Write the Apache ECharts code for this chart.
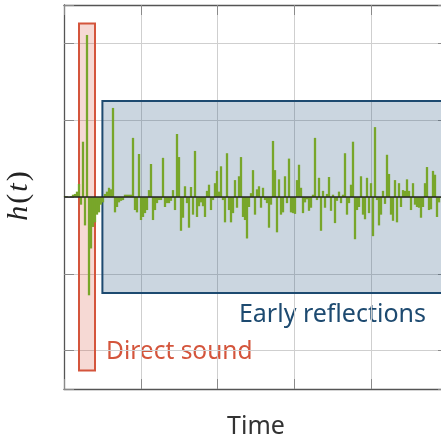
<!DOCTYPE html>
<html>
<head>
<meta charset="utf-8">
<script src="https://cdn.jsdelivr.net/npm/echarts@6/dist/echarts.min.js"></script>
<style>html,body{margin:0;padding:0;background:#fff}#c{width:441px;height:438px}</style>
</head>
<body>
<div id="c"></div>
<script>
// Impulse response h(t): samples (grid unit = 1)
const directPart = [0.01, 0.01, 0, 0.01, 0.03, 0.04, 0.07, 0.17, -0.10, 0.72, -0.37, 2.11, -1.28, -0.67, -0.39, -0.33, -0.23, -0.20, -0.10, -0.07, 0.04, 0.07, 0.12, 0.10, 1.16, -0.20, -0.13, -0.07, -0.05, -0.04, 0.03, 0.03];
const reflA = [0.03, 0.03, 0.77, -0.17, -0.20, 0.56, -0.30, -0.26, -0.21, -0.17, 0.09, 0.43, -0.30, -0.17, -0.08, -0.04, -0.04, 0.51, -0.13, -0.08, -0.08, -0.05, 0.09, -0.17, 0.82, 0.52, -0.44, -0.27, 0.14, -0.08, -0.40, 0.13];
const reflB = [-0.23, 0.60, -0.26, -0.12, -0.07, -0.12, -0.26, 0.08, 0.16, -0.17, -0.04, 0.18, 0.34, 0.07, 0.40, -0.04, -0.33, 0.57, -0.17, -0.33, -0.21, 0.22, -0.14, 0.27, 0.52, -0.26, -0.30, -0.54, -0.13, 0.05, 0.35, -0.23];
const reflC = [0.10, 0.14, -0.14, 0.12, -0.04, -0.08, -0.40, -0.10, 0.73, 0.35, -0.46, 0.23, -0.23, -0.20, 0.27, -0.08, 0.50, -0.20, -0.21, -0.22, 0.22, 0.42, 0.12, -0.21, -0.07, -0.03, -0.18, -0.14, 0.03, 0.77, -0.04, 0.25];
const reflD = [-0.44, 0.08, -0.14, 0.04, 0.26, -0.18, 0.03, -0.34, -0.05, 0.07, -0.08, 0.03, 0.57, -0.23, -0.08, 0.16, 0.72, -0.55, -0.17, -0.13, 0.27, -0.23, -0.29, 0.25, -0.21, 0.18, -0.51, 0.91, -0.04, -0.37, -0.23, 0.08];
const reflE = [-0.09, 0.55, 0.30, -0.23, -0.31, 0.22, -0.33, 0.18, -0.13, 0.09, 0.08, 0.23, 0.08, -0.17, 0.18, -0.10, -0.13, -0.14, -0.27, -0.13, 0.18, 0.39, -0.17, -0.16, 0.34, 0.29, -0.26, -0.07, -0.01, 0.64, -0.17, -0.34, 0.12, 0.50];

// axis ranges (sample index on x, amplitude on y)
const xRange = [0, 192];
const xStep = 38.4;
const yRange = [-2.5, 2.5];

// annotation boxes in data units: [x0, x1, y0, y1]
const directBox = [7.5, 15.5, -2.26, 2.26];
const earlyBox = [19.2, 210, -1.25, 1.25];
const labels = ['Early reflections', 'Direct sound'];

const samples = [].concat(directPart, reflA, reflB, reflC, reflD, reflE);
const seriesData = samples.map((v, i) => [i + 0.5, v]);

const chart = echarts.init(document.getElementById('c'), null, {renderer: 'canvas'});
const axisLineStyle = {color: '#555', width: 1.3};
const tickStyle = {color: '#8a8a8a', width: 1};
chart.setOption({
  animation: false,
  grid: {left: 64, top: 5, right: -7, bottom: 49, containLabel: false, outerBoundsMode: 'none'},
  xAxis: [{
    type: 'value', min: xRange[0], max: xRange[1], interval: xStep, position: 'bottom',
    axisLine: {show: true, onZero: false, lineStyle: axisLineStyle},
    axisTick: {show: true, inside: true, length: 10, lineStyle: tickStyle},
    axisLabel: {show: false},
    splitLine: {show: true, lineStyle: {color: '#cfcfcf', width: 1}},
    name: 'Time', nameLocation: 'middle', nameGap: 25,
    nameTextStyle: {fontFamily: 'Noto Sans', fontSize: 25, color: '#333', verticalAlign: 'top'}
  }, {
    type: 'value', min: xRange[0], max: xRange[1], interval: xStep, position: 'top',
    axisLine: {show: true, onZero: false, lineStyle: axisLineStyle},
    axisTick: {show: true, inside: true, length: 10, lineStyle: tickStyle},
    axisLabel: {show: false}, splitLine: {show: false}
  }],
  yAxis: [{
    type: 'value', min: yRange[0], max: yRange[1], position: 'left',
    axisLine: {show: true, onZero: false, lineStyle: axisLineStyle},
    axisTick: {show: true, inside: true, length: 10, lineStyle: tickStyle},
    axisLabel: {show: false},
    splitLine: {show: true, lineStyle: {color: '#cfcfcf', width: 1}},
    name: '{i|h}{n|(}{i|t}{n|)}', nameLocation: 'middle', nameGap: 30, nameRotate: 90,
    nameTextStyle: {
      fontSize: 30, color: '#222',
      rich: {
        i: {fontFamily: 'Liberation Serif', fontStyle: 'italic', fontSize: 30, color: '#222', padding: [0, 2, 0, 2]},
        n: {fontFamily: 'Liberation Serif', fontSize: 30, color: '#222'}
      }
    }
  }, {
    type: 'value', min: yRange[0], max: yRange[1], position: 'right',
    axisLine: {show: true, onZero: false, lineStyle: axisLineStyle},
    axisTick: {show: true, inside: true, length: 10, lineStyle: tickStyle},
    axisLabel: {show: false}, splitLine: {show: false}
  }],
  series: [{
    type: 'bar',
    xAxisIndex: 0, yAxisIndex: 0,
    data: seriesData,
    barWidth: 2.3,
    itemStyle: {color: '#78a62a'},
    clip: true,
    markArea: {
      silent: true,
      data: [
        [{coord: [directBox[0], directBox[3]], itemStyle: {color: 'rgba(214,84,58,0.22)', borderColor: '#d4553c', borderWidth: 2}},
         {coord: [directBox[1], directBox[2]]}],
        [{coord: [earlyBox[0], earlyBox[3]], itemStyle: {color: 'rgba(31,78,121,0.23)', borderColor: '#1d4a70', borderWidth: 2}},
         {coord: [earlyBox[1], earlyBox[2]]}]
      ]
    },
    markLine: {
      silent: true, symbol: 'none', label: {show: false},
      lineStyle: {color: '#222', width: 1.5, type: 'solid'},
      data: [{yAxis: 0}]
    }
  }],
  graphic: [
    {type: 'text', right: 441 - 426, top: 302, style: {text: labels[0], fontFamily: 'Noto Sans', fontSize: 25, fill: '#1d4a70'}},
    {type: 'text', left: 106, top: 340, style: {text: labels[1], fontFamily: 'Noto Sans', fontSize: 24.5, fill: '#d4553c'}}
  ]
});
</script>
</body>
</html>
